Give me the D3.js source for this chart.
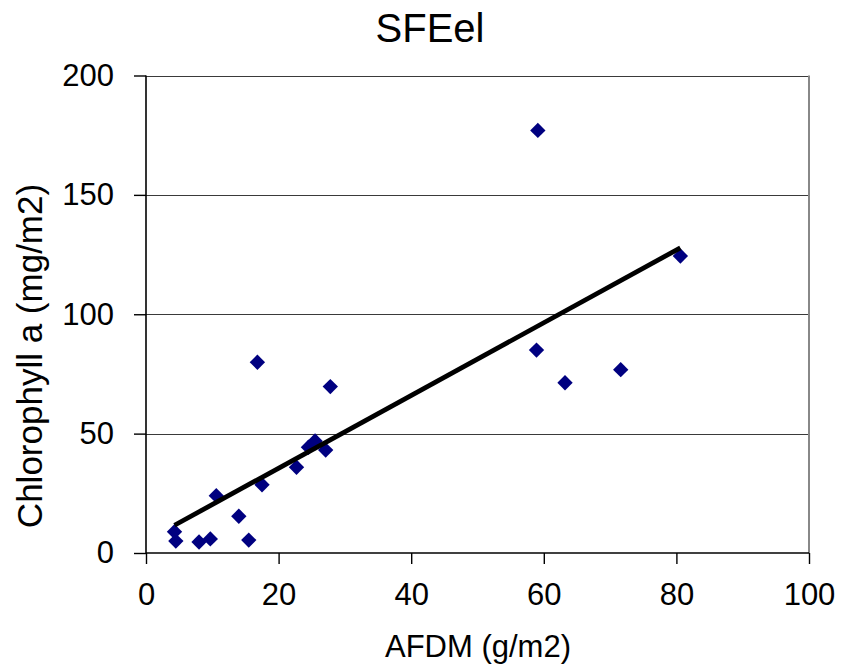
<!DOCTYPE html>
<html>
<head>
<meta charset="utf-8">
<script src="https://cdn.jsdelivr.net/npm/d3@7/dist/d3.min.js"></script>
<style>
  html, body { margin: 0; padding: 0; background: #fff; }
  svg text { font-family: "Liberation Sans", Arial, sans-serif; fill: #000; }
</style>
</head>
<body>
<svg id="chart" width="844" height="671"></svg>
<script>
// AFDM (g/m2) vs Chlorophyll a (mg/m2) samples
const afdm = [59.1, 80.6, 58.9, 63.2, 71.6, 16.8, 27.8, 17.5, 10.6, 22.7,
              24.5, 25.5, 27.1, 14.0, 15.5, 8.0, 9.7, 4.3, 4.5];
const chla = [177.0, 124.4, 85.0, 71.3, 76.8, 79.9, 69.7, 28.6, 24.0, 35.9,
              44.3, 46.9, 43.1, 15.4, 5.4, 4.6, 5.9, 8.9, 5.0];
const xTicks = [0, 20, 40, 60, 80, 100];
const yTicks = [0, 50, 100, 150, 200];
const titleText = "SFEel";
const xTitle = "AFDM (g/m2)";
const yTitle = "Chlorophyll a (mg/m2)";

const svg = d3.select("#chart");
const x = d3.scaleLinear().domain([0, 100]).range([146, 809]);
const y = d3.scaleLinear().domain([0, 200]).range([553, 75.5]);

// horizontal gridlines
svg.append("g")
  .selectAll("line")
  .data(yTicks.filter(d => d > 0))
  .join("line")
  .attr("x1", x(0)).attr("x2", x(100))
  .attr("y1", d => Math.round(y(d)) + 0.5).attr("y2", d => Math.round(y(d)) + 0.5)
  .attr("stroke", "#3a3a3a").attr("stroke-width", 1.2);

// plot area right border
svg.append("line")
  .attr("x1", x(100)).attr("x2", x(100))
  .attr("y1", y(200)).attr("y2", y(0))
  .attr("stroke", "#888").attr("stroke-width", 2);

// axes
const xAxis = d3.axisBottom(x).tickValues(xTicks).tickSize(11).tickPadding(19);
const gx = svg.append("g").attr("transform", `translate(0,${y(0)})`).call(xAxis);
const yAxis = d3.axisLeft(y).tickValues(yTicks).tickSize(12).tickPadding(20);
const gy = svg.append("g").attr("transform", `translate(${x(0)},0)`).call(yAxis);

[gx, gy].forEach(g => {
  g.select(".domain").attr("stroke", "#000").attr("stroke-width", 1.6);
  g.selectAll(".tick line").attr("stroke", "#000").attr("stroke-width", 1.4);
  g.selectAll(".tick text")
    .attr("font-family", "'Liberation Sans', Arial, sans-serif")
    .attr("font-size", 31).attr("fill", "#000");
});
gx.select(".domain").attr("d", `M${x(0)},0H${x(100)}`);
gy.select(".domain").attr("d", `M0,${y(0)}V${y(200)}`);
gx.selectAll(".tick text").attr("dy", "0.71em");
gy.selectAll(".tick text").attr("dy", "0.32em");

// least-squares trend line across the data range
const n = afdm.length;
const mx = d3.mean(afdm), my = d3.mean(chla);
let sxy = 0, sxx = 0;
for (let i = 0; i < n; i++) {
  sxy += (afdm[i] - mx) * (chla[i] - my);
  sxx += (afdm[i] - mx) ** 2;
}
const slope = sxy / sxx, icpt = my - slope * mx;
const [x0, x1] = d3.extent(afdm);

// points
const pts = afdm.map((v, i) => ({ a: v, c: chla[i] }));
svg.append("g")
  .selectAll("path")
  .data(pts)
  .join("path")
  .attr("d", d3.symbol(d3.symbolDiamond2, 150))
  .attr("transform", d => `translate(${x(d.a)},${y(d.c)})`)
  .attr("fill", "#000080");

svg.append("line")
  .attr("x1", x(x0)).attr("y1", y(icpt + slope * x0))
  .attr("x2", x(x1)).attr("y2", y(icpt + slope * x1))
  .attr("stroke", "#000").attr("stroke-width", 4.8);

// titles
svg.append("text")
  .attr("x", 430).attr("y", 42)
  .attr("text-anchor", "middle").attr("font-size", 40)
  .text(titleText);

svg.append("text")
  .attr("x", 478).attr("y", 657)
  .attr("text-anchor", "middle").attr("font-size", 31)
  .text(xTitle);

svg.append("text")
  .attr("transform", "translate(42,356) rotate(-90)")
  .attr("text-anchor", "middle").attr("font-size", 35)
  .text(yTitle);
</script>
</body>
</html>
